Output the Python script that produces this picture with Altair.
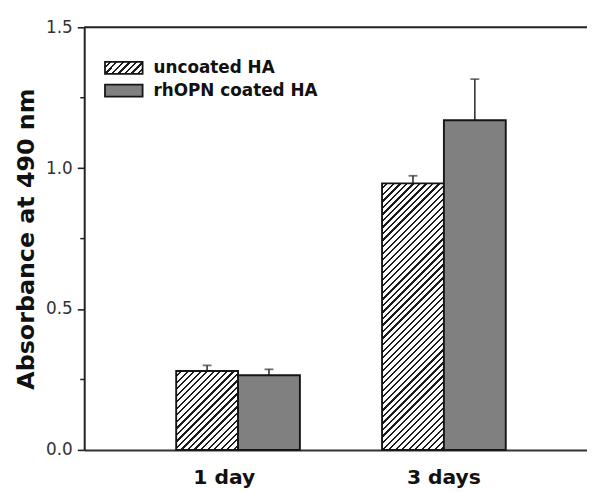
import altair as alt

# ---- data ----
days = ["1 day", "3 days"]
series = ["uncoated HA", "rhOPN coated HA"]
uncoated = [0.280, 0.946]
uncoated_err = [0.020, 0.027]
coated = [0.265, 1.170]
coated_err = [0.021, 0.146]
y_ticks = [0.0, 0.5, 1.0, 1.5]
y_minor = [0.25, 0.75, 1.25]

# ---- layout / style ----
FONT = "DejaVu Sans"
W, H = 508, 427
YMAX = 1.5
PI, PO, ALIGN = 0.399, 0.4207, 0.531
GREY = "#808080"
INK = "#151515"

step = W / (len(days) - PI + 2 * PO)
bar_w = step * (1 - PI) / len(series)
px_per_unit = H / YMAX


def hatch(w, h, period=6.6, frac=0.34, ink="#1a1a1a", paper="white"):
    L = w + h
    n = int(L / period) + 2
    stops = []
    for k in range(n):
        a = min(k * period / L, 1)
        b = min((k * period + period * (1 - frac)) / L, 1)
        c = min((k + 1) * period / L, 1)
        stops += [
            {"offset": a, "color": paper},
            {"offset": b, "color": paper},
            {"offset": b, "color": ink},
            {"offset": c, "color": ink},
        ]
    d = w * w + h * h
    return {"gradient": "linear", "x1": 0, "y1": 0,
            "x2": L * w / d, "y2": L * h / d, "stops": stops}


rows = []
for i, d in enumerate(days):
    rows.append({"day": d, "series": series[0], "value": uncoated[i],
                 "hi": uncoated[i] + uncoated_err[i],
                 "fill": hatch(bar_w, uncoated[i] * px_per_unit)})
    rows.append({"day": d, "series": series[1], "value": coated[i],
                 "hi": coated[i] + coated_err[i], "fill": GREY})

leg_rows = [{"series": series[0], "fill": hatch(38, 12)},
            {"series": series[1], "fill": GREY}]

yscale = alt.Scale(domain=[0, YMAX], nice=False, zero=True)
ytitle = "Absorbance at 490 nm"
yaxis = alt.Axis(values=y_ticks, format=".1f", tickSize=7, tickWidth=1.6,
                 tickColor="#222", domainColor="#222", domainWidth=2,
                 labelFont=FONT, labelFontSize=17, labelColor="#333",
                 labelPadding=5, titleFont=FONT, titleFontSize=24,
                 titleFontWeight="bold", titleColor="#111", titlePadding=7,
                 grid=False)

xscale = alt.Scale(domain=days, paddingInner=PI, paddingOuter=PO, align=ALIGN)
xaxis = alt.Axis(ticks=False, labelAngle=0, labelFont=FONT, labelFontSize=20.5,
                 labelFontWeight="bold", labelColor="#111", labelPadding=18,
                 domainColor="#333", domainWidth=2, grid=False,
                 labelOffset={"condition": {"test": "datum.value == '1 day'", "value": -14}, "value": 0})

X = alt.X("day:N", scale=xscale, axis=xaxis, title=None)
XO = alt.XOffset("series:N", scale=alt.Scale(domain=series, paddingInner=0, paddingOuter=0))

base = alt.Chart(alt.Data(values=rows))

err = base.mark_rule(color="#333", strokeWidth=1.6).encode(
    x=X, xOffset=XO,
    y=alt.Y("value:Q", scale=yscale, axis=yaxis, title=ytitle),
    y2="hi:Q")
caps = base.mark_tick(color="#333", thickness=1.8, size=9).encode(
    x=X, xOffset=XO,
    y=alt.Y("hi:Q", scale=yscale, axis=yaxis, title=ytitle))
bars = base.mark_bar(stroke=INK, strokeWidth=1.9).encode(
    x=X, xOffset=XO,
    y=alt.Y("value:Q", scale=yscale, axis=yaxis, title=ytitle, stack=None),
    fill=alt.Fill("fill:N", scale=None))

top = alt.Chart(alt.Data(values=[{"v": YMAX}])).mark_rule(
    color="#222", strokeWidth=2).encode(
    y=alt.Y("v:Q", scale=yscale, axis=yaxis, title=ytitle))

minor = alt.Chart(alt.Data(values=[{"m": m} for m in y_minor])).mark_rule(
    color="#222", strokeWidth=1.5).encode(
    y=alt.Y("m:Q", scale=yscale, axis=yaxis, title=ytitle),
    x=alt.value(-4), x2=alt.value(0))

main = alt.layer(err, caps, bars, top, minor)

leg_y = alt.Y("series:N", scale=alt.Scale(domain=series, range=[35, 70],
                                          paddingInner=0.478, paddingOuter=0),
              axis=None)
leg_base = alt.Chart(alt.Data(values=leg_rows))
leg_sw = leg_base.mark_rect(stroke=INK, strokeWidth=1.8).encode(
    x=alt.value(21), x2=alt.value(59), y=leg_y,
    fill=alt.Fill("fill:N", scale=None))
leg_tx = leg_base.mark_text(align="left", baseline="middle", font=FONT,
                            fontSize=17, fontWeight="bold", color="#111").encode(
    x=alt.value(70), y=leg_y, text="series:N")
legend = alt.layer(leg_sw, leg_tx)

chart = alt.layer(main, legend).resolve_scale(y="independent").properties(
    width=W, height=H,
    autosize=alt.AutoSizeParams(type="none"),
    padding={"left": 77, "top": 17, "right": 0, "bottom": 38},
).configure_view(stroke=None).configure(background="white")

chart.save("out.html", embed_options={"renderer": "svg", "actions": False})
